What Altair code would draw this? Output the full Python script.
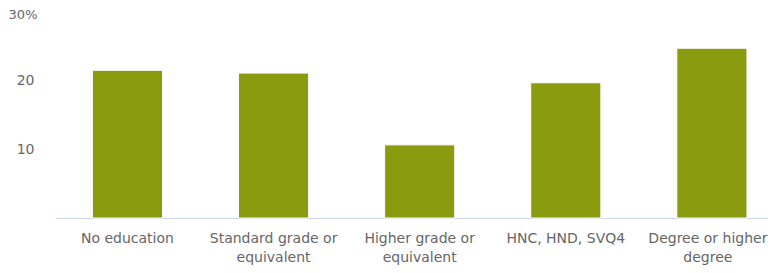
import altair as alt
import pandas as pd

categories = ["No education", "Standard grade or equivalent", "Higher grade or equivalent",
              "HNC, HND, SVQ4", "Degree or higher degree"]
labels = [["No education"], ["Standard grade or", "equivalent"], ["Higher grade or", "equivalent"],
          ["HNC, HND, SVQ4"], ["Degree or higher", "degree"]]
values = [21.4, 21.0, 10.6, 19.6, 24.6]

df = pd.DataFrame({"cat": categories, "value": values})

label_expr = "{" + ", ".join(
    f"'{c}': [" + ", ".join(f"'{l}'" for l in ls) + "]" for c, ls in zip(categories, labels)
) + "}[datum.value]"

chart = alt.Chart(df).mark_bar(color="#8a9b0f", stroke="#ffffff", strokeWidth=1).encode(
    x=alt.X("cat:N", sort=categories, title=None,
            scale=alt.Scale(paddingInner=0.52, paddingOuter=0.2, align=0.64),
            axis=alt.Axis(labelAngle=0, labelExpr=label_expr, ticks=False,
                          domainColor="#ccd6eb", domainWidth=1, labelColor="#666666",
                          labelFontSize=14, labelFont="DejaVu Sans", labelPadding=20,
                          labelLineHeight=19, labelBaseline="middle", grid=False,
                          labelOffset={"condition": {"test": "datum.value == 'Degree or higher degree'", "value": -4}, "value": 0},
                          labelLimit=200)),
    y=alt.Y("value:Q", title=None,
            scale=alt.Scale(domain=[0, 30], nice=False),
            axis=alt.Axis(values=[10, 20, 30], ticks=False, domain=False, grid=False,
                          labelExpr="datum.value == 30 ? '30%' : datum.value",
                          labelOffset={"condition": {"test": "datum.value == 30", "value": 3}, "value": 0},
                          labelPadding={"condition": {"test": "datum.value == 30", "value": 18}, "value": 21},
                          labelFontSize={"condition": {"test": "datum.value == 30", "value": 13}, "value": 14},
                          labelColor="#666666", labelFont="DejaVu Sans")),
).properties(
    width=713, height=207,
    autosize=alt.AutoSizeParams(type="none"),
    padding={"left": 47, "top": 3, "right": 0, "bottom": 47},
).configure_view(stroke=None)

chart.save("out.html", embed_options={"renderer": "svg", "actions": False})
